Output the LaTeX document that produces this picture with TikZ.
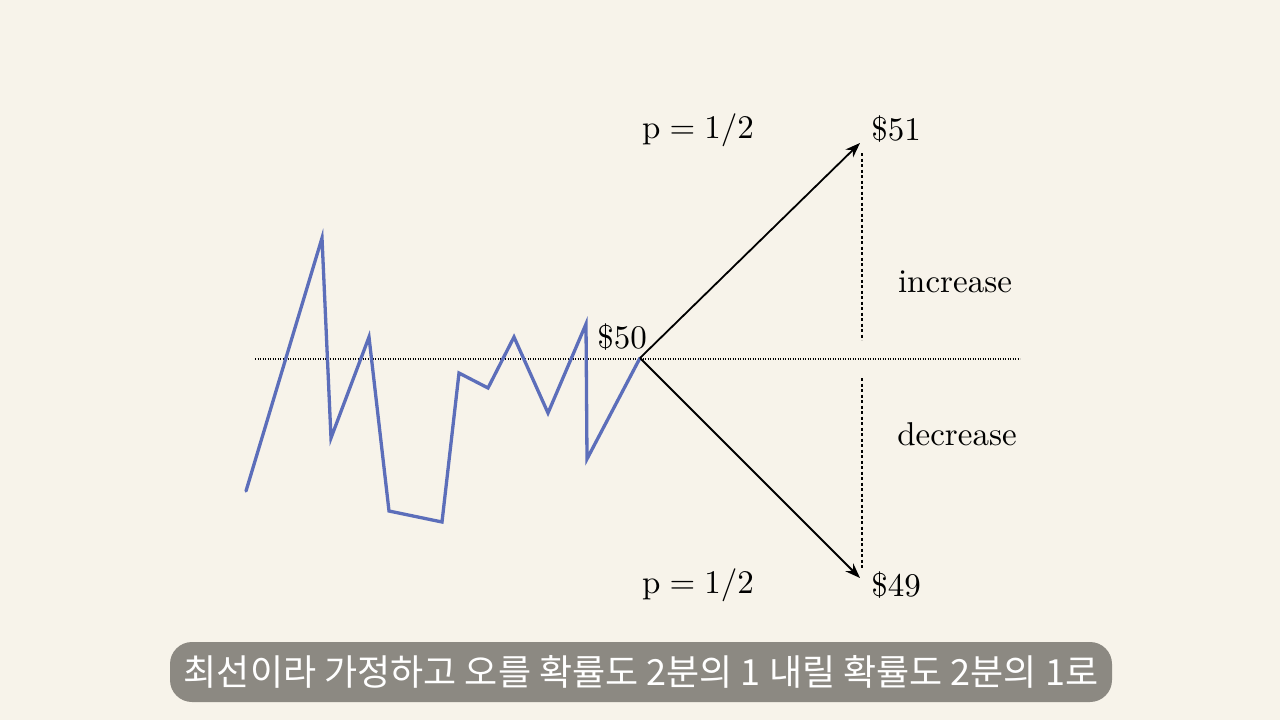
\documentclass[tikz,border=0pt]{standalone}
\usepackage{fontspec}
\newfontfamily\kr{Noto Sans CJK KR}
\usetikzlibrary{arrows.meta}
\definecolor{bg}{RGB}{247,243,234}
\definecolor{pathblue}{RGB}{92,110,186}
\definecolor{capgray}{RGB}{140,137,130}
\tikzset{
  lab/.style={font=\fontsize{10}{12}\selectfont, scale=3.3, transform shape, inner sep=0pt},
  walk/.style={pathblue, line width=3.3pt, line join=miter, line cap=round},
  branch/.style={black, line width=1.8pt, -{Stealth[length=15pt,width=11pt]}},
  level/.style={black, line width=1.6pt, dash pattern=on 1.2pt off 1.3pt},
  guide/.style={black, line width=1.8pt, dash pattern=on 3pt off 2.5pt},
  caption/.style={fill=capgray, rounded corners=22pt, text=white, font=\kr\fontsize{36}{40}\selectfont, minimum width=942pt, minimum height=60pt, inner sep=0pt}
}
\begin{document}
\begin{tikzpicture}[x=1pt,y=-1pt]
\useasboundingbox (0,0) rectangle (1280,720);
\fill[bg] (0,0) rectangle (1280,720);
% level line
\coordinate (L0) at (255,359);
\coordinate (L1) at (1020,359);
\draw[level] (L0) -- (L1);
% random walk
\coordinate (O) at (640,358);
\draw[walk] (246,491) -- (322,238) -- (331,438) -- (369,337) -- (389,511) -- (442,522) -- (459,373) -- (488,388) -- (514,337) -- (548,413) -- (586,324) -- (587,459) -- (O);
% branches
\coordinate (U) at (860,143);
\coordinate (D) at (860,578);
\draw[branch] (O) -- (U);
\draw[branch] (O) -- (D);
% vertical guides
\coordinate (G1) at (862,153);
\coordinate (G2) at (862,340);
\coordinate (G3) at (862,378);
\coordinate (G4) at (862,568);
\draw[guide] (G1) -- (G2);
\draw[guide] (G3) -- (G4);
% labels
\node[lab] (s50) at (622,337) {\$50};
\node[lab] (s51) at (896,129) {\$51};
\node[lab] (s49) at (896,585) {\$49};
\node[lab] (pu) at (698,130) {$\mathrm{p} = 1/2$};
\node[lab] (pd) at (698,585) {$\mathrm{p} = 1/2$};
\node[lab] (inc) at (955,282) {increase};
\node[lab] (dec) at (957,434) {decrease};
% caption
\node[caption] (cap) at (641,672) {최선이라 가정하고 오를 확률도 2분의 1 내릴 확률도 2분의 1로};
\end{tikzpicture}
\end{document}
